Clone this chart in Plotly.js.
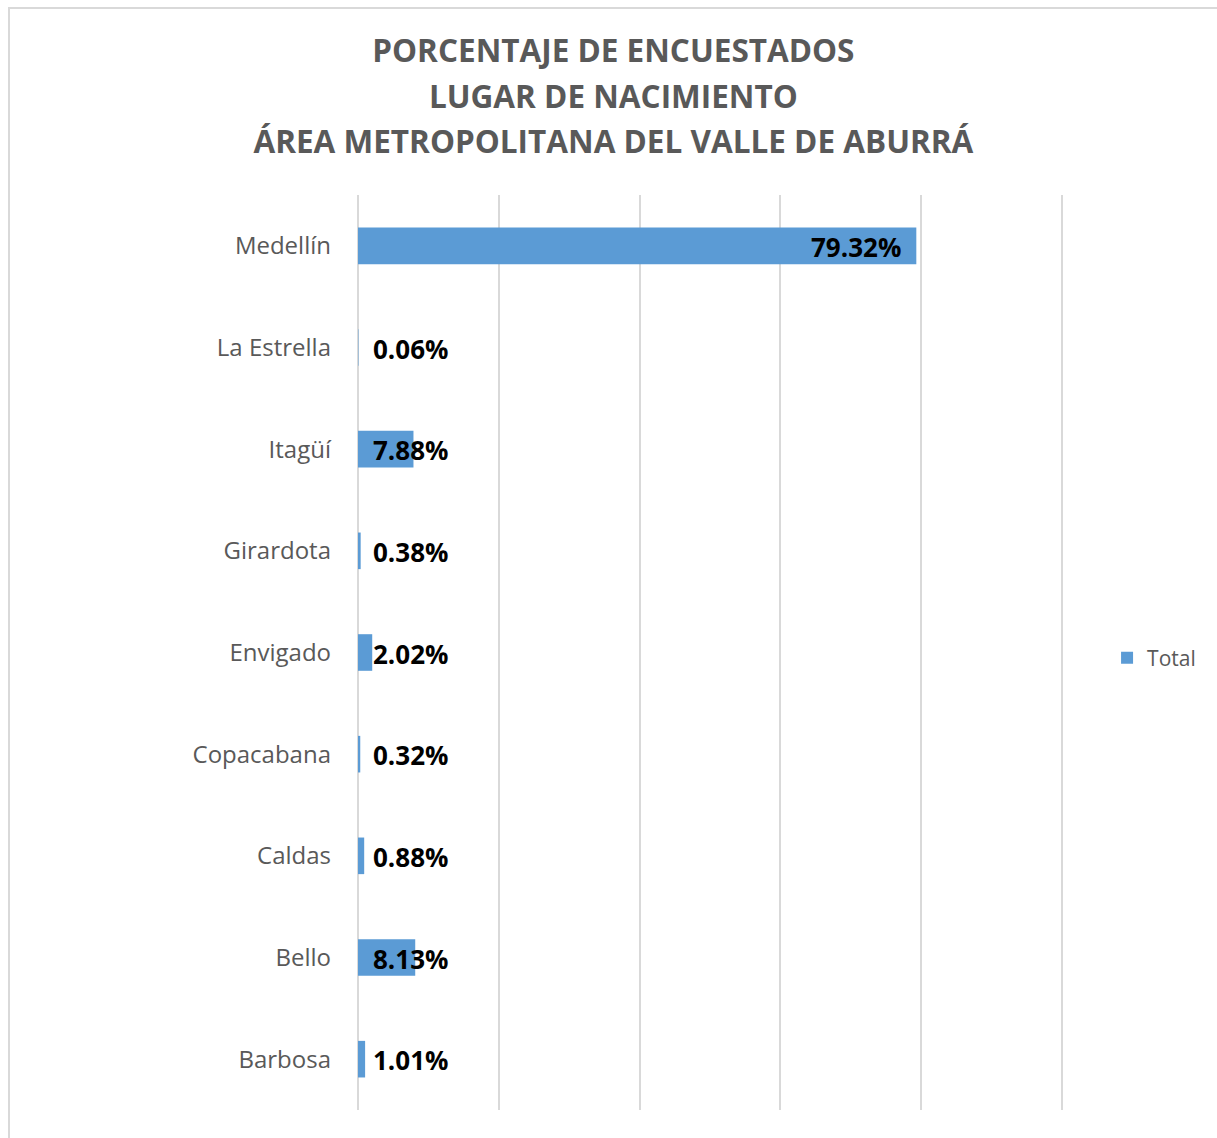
<!DOCTYPE html>
<html>
<head>
<meta charset="utf-8">
<script src="https://cdn.plot.ly/plotly-3.0.1.min.js"></script>
<style>
html, body { margin: 0; padding: 0; background: #ffffff; overflow: hidden; }
#chart { width: 1217px; height: 1138px; position: absolute; left: 0; top: 0; }
#frame { position: absolute; left: 8px; top: 7px; width: 1400px; height: 1400px; border: 2px solid #d9d9d9; pointer-events: none; box-sizing: border-box; }
</style>
</head>
<body>
<div id="chart"></div>
<div id="frame"></div>
<script>
// Data (top to bottom as displayed)
const categories = ["Medellín", "La Estrella", "Itagüí", "Girardota", "Envigado", "Copacabana", "Caldas", "Bello", "Barbosa"];
const values = [79.32, 0.06, 7.88, 0.38, 2.02, 0.32, 0.88, 8.13, 1.01];
const labels = ["79.32%", "0.06%", "7.88%", "0.38%", "2.02%", "0.32%", "0.88%", "8.13%", "1.01%"];
const seriesName = "Total";
const titleLines = ["PORCENTAJE DE ENCUESTADOS", "LUGAR DE NACIMIENTO", "ÁREA METROPOLITANA DEL VALLE DE ABURRÁ"];

const trace = {
  type: "bar",
  orientation: "h",
  y: categories,
  x: values,
  name: seriesName,
  marker: { color: "#5B9BD5" },
  hoverinfo: "y+x",
  showlegend: true
};

// Data labels: inside-end for long bars, fixed offset from axis for short ones
const annotations = categories.map((c, i) => {
  const big = values[i] > 40;
  return {
    x: big ? values[i] : 0,
    y: c,
    xref: "x",
    yref: "y",
    text: "<b>" + labels[i] + "</b>",
    showarrow: false,
    xanchor: big ? "right" : "left",
    xshift: big ? -13 : 13,
    yshift: -1,
    font: { family: "Open Sans, sans-serif", size: 26, color: "#000000" }
  };
});

const titleText = titleLines
  .map(t => "<span style='font-size:31.5px'><b>" + t + "</b></span>")
  .join("<br>");

const layout = {
  width: 1217,
  height: 1138,
  paper_bgcolor: "#ffffff",
  plot_bgcolor: "#ffffff",
  margin: { l: 358, r: 153, t: 195, b: 28 },
  title: {
    text: titleText,
    font: { family: "Open Sans, sans-serif", size: 35, color: "#595959" },
    x: 0.504,
    xanchor: "center",
    y: 0.9452,
    yanchor: "top"
  },
  bargap: 0.64,
  xaxis: {
    range: [0, 100.3],
    dtick: 20,
    showticklabels: false,
    ticks: "",
    showgrid: true,
    gridcolor: "#d9d9d9",
    gridwidth: 2,
    zeroline: true,
    zerolinecolor: "#d9d9d9",
    zerolinewidth: 2,
    showline: false,
    fixedrange: true
  },
  yaxis: {
    type: "category",
    categoryorder: "array",
    categoryarray: categories,
    autorange: "reversed",
    ticks: "",
    ticklabelstandoff: 26,
    tickfont: { family: "Open Sans, sans-serif", size: 24, color: "#595959" },
    showgrid: false,
    zeroline: false,
    showline: false,
    fixedrange: true
  },
  legend: {
    x: 1.061,
    xanchor: "left",
    y: 0.494,
    yanchor: "middle",
    font: { family: "Open Sans, sans-serif", size: 21, color: "#595959" },
    itemwidth: 30,
    bgcolor: "rgba(0,0,0,0)"
  },
  annotations: annotations
};

Plotly.newPlot("chart", [trace], layout, { displayModeBar: false, staticPlot: true });
</script>
</body>
</html>
